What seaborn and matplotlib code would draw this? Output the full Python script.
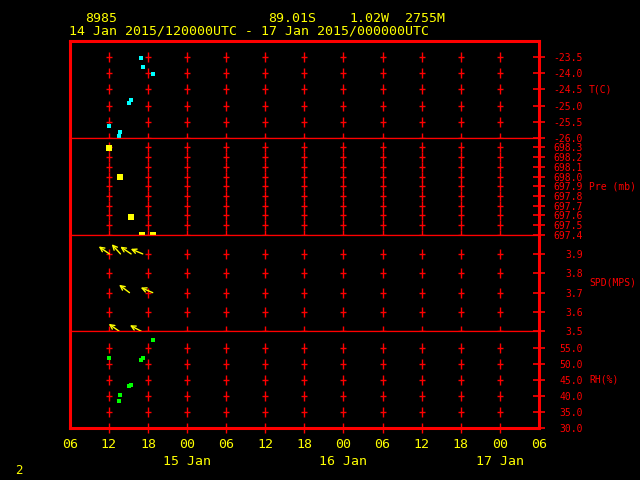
#%% Imports

import numpy as np
import pandas as pd
import matplotlib as mpl
import matplotlib.pyplot as plt
import seaborn as sns

#%% Data

station = '8985'
lat_txt = '89.01S'
lon_txt = '1.02W'
elev_txt = '2755M'
period_txt = '14 Jan 2015/120000UTC - 17 Jan 2015/000000UTC'

x_start = pd.Timestamp('2015-01-14 06:00')
x_end = pd.Timestamp('2015-01-17 06:00')
hour_ticks = pd.date_range(x_start, x_end, freq='6h')
hour_labels = ['06', '12', '18', '00', '06', '12', '18', '00', '06', '12', '18', '00', '06']
day_ticks = pd.to_datetime(['2015-01-15', '2015-01-16', '2015-01-17'])
day_labels = ['15 Jan', '16 Jan', '17 Jan']

obs_times = pd.to_datetime(['2015-01-14 12:05', '2015-01-14 13:37', '2015-01-14 13:47',
                            '2015-01-14 15:10', '2015-01-14 15:25', '2015-01-14 17:00',
                            '2015-01-14 17:12', '2015-01-14 18:44'])
temp = [-25.65, -25.93, -25.83, -24.92, -24.83, -23.52, -23.80, -24.02]
rh = [51.7, 38.4, 40.2, 43.1, 43.4, 51.2, 51.6, 57.2]
wind_spd = [3.9, 3.5, 3.9, 3.7, 3.9, 3.5, 3.9, 3.7]
wind_dir = [145, 145, 132, 143, 146, 152, 157, 157]   # arrow angle on screen, deg

pre_times = pd.to_datetime(['2015-01-14 12:05', '2015-01-14 13:45', '2015-01-14 15:22',
                            '2015-01-14 17:06', '2015-01-14 18:44'])
pres = [698.29, 697.99, 697.58, 697.40, 697.40]

t_ticks = [-26.0, -25.5, -25.0, -24.5, -24.0, -23.5]
p_ticks = [697.4, 697.5, 697.6, 697.7, 697.8, 697.9, 698.0, 698.1, 698.2, 698.3]
s_ticks = [3.5, 3.6, 3.7, 3.8, 3.9]
rh_ticks = [30.0, 35.0, 40.0, 45.0, 50.0, 55.0]

panels = [('T(C)', (-26.0, -23.0), t_ticks),
          ('Pre (mb)', (697.4, 698.4), p_ticks),
          ('SPD(MPS)', (3.5, 4.0), s_ticks),
          ('RH(%)', (30.0, 60.0), rh_ticks)]

#%% Style

red = '#ff0000'
yellow = '#ffff00'
sns.set_style('dark', rc={'axes.facecolor': 'black', 'figure.facecolor': 'black'})
plt.rcParams['font.family'] = ['DejaVu Sans Mono', 'DejaVu Sans']

#%% Figure

fig = plt.figure(figsize=(6.4, 4.8), dpi=100)
gs = fig.add_gridspec(4, 1, left=0.109, right=0.842, top=0.9146, bottom=0.108, hspace=0)
axes = []
for i in range(4):
    ax = fig.add_subplot(gs[i], sharex=axes[0] if axes else None)
    axes.append(ax)

grid_x = hour_ticks[1:-1]

for i, (ax, (name, ylim, ticks)) in enumerate(zip(axes, panels)):
    ax.set_facecolor('black')
    ax.set_ylim(*ylim)
    ax.set_xlim(x_start, x_end)
    ax.grid(False)

    # crosses at grid intersections
    gx, gy = np.meshgrid(grid_x, ticks)
    ax.plot(gx.ravel(), gy.ravel(), ls='none', marker='|', ms=7.5, mew=1.0, color=red, clip_on=False)
    ax.plot(gx.ravel(), gy.ravel(), ls='none', marker='_', ms=5, mew=1.0, color=red, clip_on=False)

    ax.yaxis.tick_right()
    ax.set_yticks(ticks)
    ax.set_yticklabels(['{:.1f}'.format(v) for v in ticks])
    ax.tick_params(axis='y', direction='inout', length=8.6, width=1.2, color=red,
                   labelcolor=red, labelsize=7, pad=27.4)
    for lab in ax.get_yticklabels():
        lab.set_ha('right')
    ax.text(1.1066, 0.5, name, transform=ax.transAxes, color=red, fontsize=7,
            ha='left', va='center')

    for side in ['left', 'right', 'top', 'bottom']:
        ax.spines[side].set_visible(True)
        ax.spines[side].set_color(red)
        ax.spines[side].set_linewidth(0.9)
    ax.spines['left'].set_linewidth(2.2)
    ax.spines['right'].set_linewidth(2.2)
    if i == 0:
        ax.spines['top'].set_linewidth(2.2)
    if i == 3:
        ax.spines['bottom'].set_linewidth(2.2)
    if i < 3:
        ax.tick_params(axis='x', which='both', length=0, labelbottom=False)
    ax.set_xlabel('')
    ax.set_ylabel('')

#%% Data marks

sns.scatterplot(x=obs_times, y=temp, ax=axes[0], marker='s', s=11, color='#00ffff',
                linewidth=0, zorder=5)
sc = sns.scatterplot(x=pre_times, y=pres, ax=axes[1], marker='s', s=16, color=yellow,
                     linewidth=0, zorder=5)
for c in axes[1].collections:
    c.set_clip_on(False)
sns.scatterplot(x=obs_times, y=rh, ax=axes[3], marker='s', s=12, color='#00ff00',
                linewidth=0, zorder=5)

arrow_len = 9.4
for t, s, d in zip(obs_times, wind_spd, wind_dir):
    dx = arrow_len * np.cos(np.radians(d))
    dy = arrow_len * np.sin(np.radians(d))
    axes[2].annotate('', xy=(t, s), xytext=(dx, dy), textcoords='offset points',
                     arrowprops=dict(arrowstyle='<-', color=yellow, lw=1.0,
                                     shrinkA=0, shrinkB=0, mutation_scale=8),
                     annotation_clip=False)

for ax in axes:
    ax.set_xlabel('')
    ax.set_ylabel('')

#%% Time axis

bx = axes[3]
bx.set_xticks(hour_ticks)
bx.set_xticklabels(hour_labels)
bx.set_xticks(day_ticks, minor=True)
bx.set_xticklabels(day_labels, minor=True)
bx.xaxis.remove_overlapping_locs = False
bx.tick_params(axis='x', which='major', length=0, labelcolor=yellow, labelsize=9.5, pad=7)
bx.tick_params(axis='x', which='minor', length=0, labelcolor=yellow, labelsize=9.5, pad=19)
bx.set_xlim(x_start, x_end)

#%% Header

fig.text(85 / 640, 1 - 19 / 480, station, color=yellow, fontsize=9.5, ha='left', va='center')
fig.text(268 / 640, 1 - 19 / 480, lat_txt, color=yellow, fontsize=9.5, ha='left', va='center')
fig.text(349 / 640, 1 - 19 / 480, lon_txt, color=yellow, fontsize=9.5, ha='left', va='center')
fig.text(405 / 640, 1 - 19 / 480, elev_txt, color=yellow, fontsize=9.5, ha='left', va='center')
fig.text(69 / 640, 1 - 31 / 480, period_txt, color=yellow, fontsize=9.5, ha='left', va='center')
fig.text(15 / 640, 1 - 471 / 480, '2', color=yellow, fontsize=9, ha='left', va='center')

fig.savefig('out.png', dpi=100, facecolor='black')
